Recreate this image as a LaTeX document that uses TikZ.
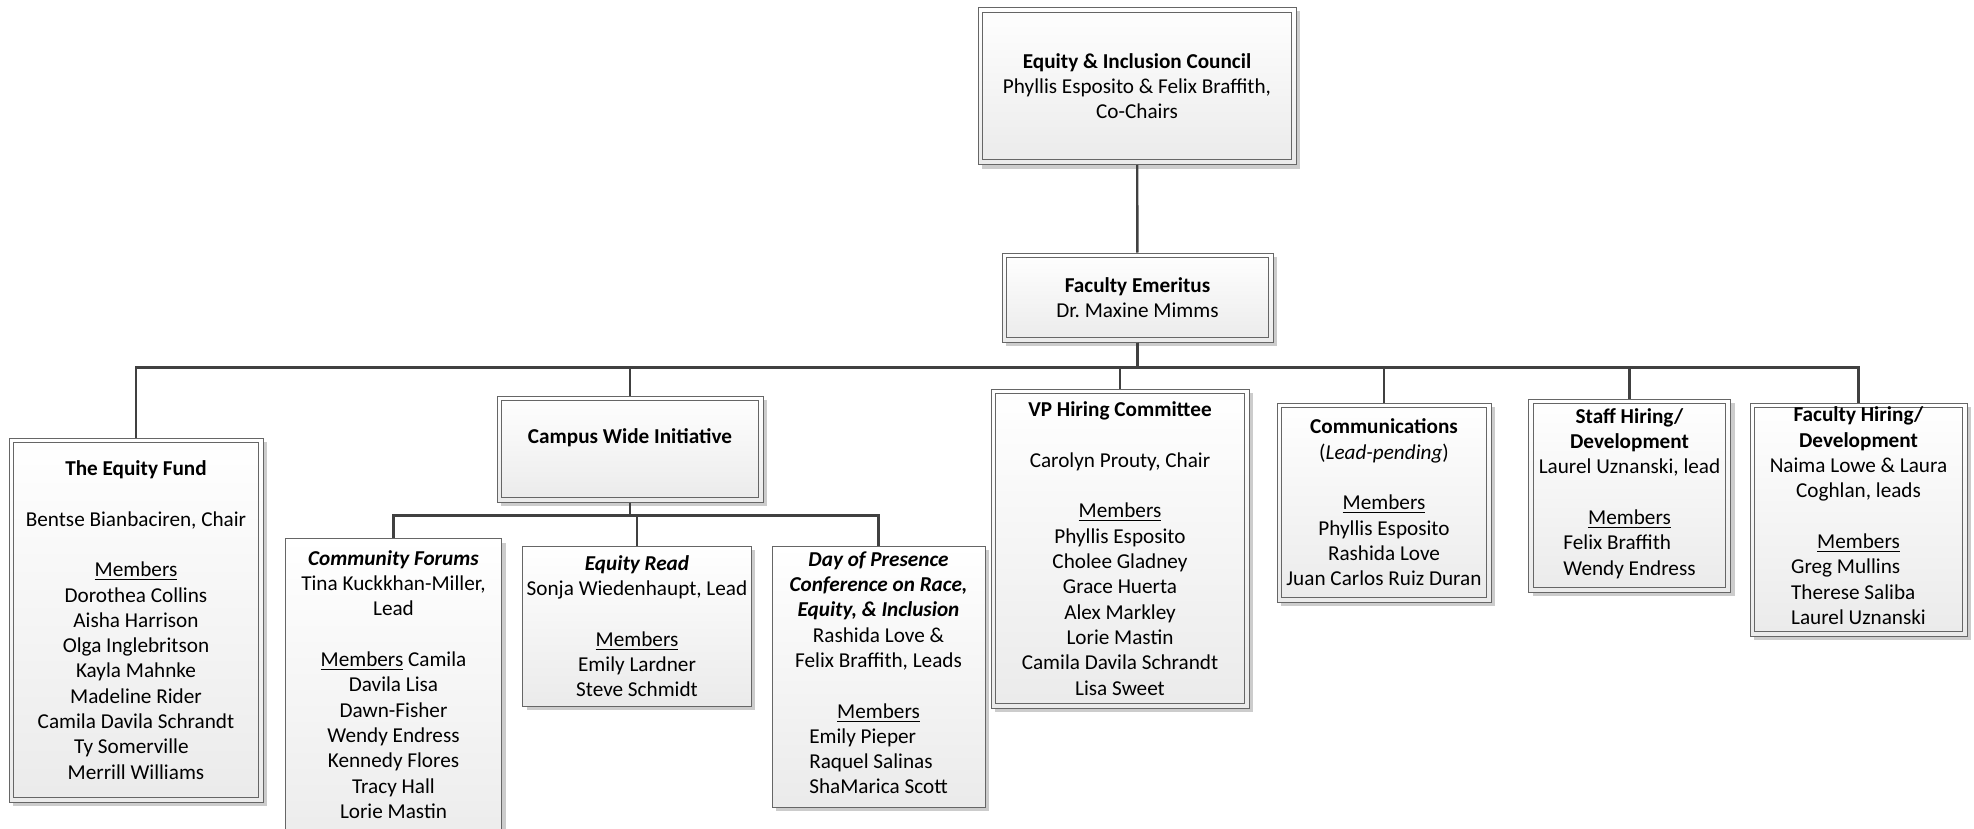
\documentclass[tikz,border=0pt]{standalone}
\usepackage{fontspec}
\setmainfont{Carlito}
\usepackage{tikz}
\usetikzlibrary{shadows}

\begin{document}
\begin{tikzpicture}[x=0.5pt, y=-0.5pt,
        every node/.style = {shape=rectangle, draw=black!60, align=center,
                             line width=0.5pt, inner sep=2pt,
                             top color=white, bottom color=black!8,
                             font=\fontsize{10.6pt}{12.65pt}\selectfont,
                             drop shadow={shadow xshift=2pt, shadow yshift=-2pt,
                                          fill=black!20, opacity=1}},
        dblbox/.style = {path picture={\draw[black!60, line width=0.5pt]
                             ([shift={(2.3pt,2.3pt)}]path picture bounding box.south west) rectangle
                             ([shift={(-2.3pt,-2.3pt)}]path picture bounding box.north east);}},
        link/.style = {draw=black!75, line width=1.2pt}]
    \useasboundingbox (0,0) rectangle (1974,829);
    \node[dblbox, minimum width=159pt, minimum height=78.5pt] (council) at (1137,86)
        {\textbf{Equity \& Inclusion Council}\\Phyllis Esposito \& Felix Braffith,\\Co-Chairs};
    \node[dblbox, minimum width=135.5pt, minimum height=44.5pt] (emer) at (1137.5,297.5)
        {\textbf{Faculty Emeritus}\\Dr.\ Maxine Mimms};
    \node[dblbox, minimum width=127pt, minimum height=182pt] (fund) at (136,620)
        {\textbf{The Equity Fund}\\[12.65pt]Bentse Bianbaciren, Chair\\[12.65pt]\underline{Members}\\
         Dorothea Collins\\Aisha Harrison\\Olga Inglebritson\\Kayla Mahnke\\Madeline Rider\\
         Camila Davila Schrandt\\Ty Somerville\hphantom{x}\\Merrill Williams};
    \node[dblbox, minimum width=133pt, minimum height=53pt] (cwi) at (630,449)
        {\textbf{Campus Wide Initiative}\\ \mbox{}};
    \node[dblbox, minimum width=129pt, minimum height=159.5pt] (vp) at (1120,548.5)
        {\textbf{VP Hiring Committee}\\[12.65pt]Carolyn Prouty, Chair\\[12.65pt]\underline{Members}\\
         Phyllis Esposito\\Cholee Gladney\\Grace Huerta\\Alex Markley\\Lorie Mastin\\
         Camila Davila Schrandt\\Lisa Sweet};
    \node[dblbox, minimum width=107pt, minimum height=99.5pt] (comm) at (1384,502.5)
        {\textbf{Communications}\\(\textit{Lead-pending})\\[12.65pt]\underline{Members}\\
         Phyllis Esposito\\Rashida Love\\Juan Carlos Ruiz Duran};
    \node[dblbox, minimum width=101pt, minimum height=96.5pt] (staff) at (1629.5,495.5)
        {\textbf{Staff Hiring/}\\\textbf{Development}\\Laurel Uznanski, lead\\[12.65pt]\underline{Members}\\
         \begin{tabular}[t]{@{}l@{}}Felix Braffith\\Wendy Endress\end{tabular}};
    \node[dblbox, minimum width=108.5pt, minimum height=116.5pt, inner ysep=1pt] (fac) at (1858.5,519.5)
        {\textbf{Faculty Hiring/}\\\textbf{Development}\\Naima Lowe \& Laura\\Coghlan, leads\\[12.65pt]
         \underline{Members}\\
         \begin{tabular}[t]{@{}l@{}}Greg Mullins\\Therese Saliba\\Laurel Uznanski\end{tabular}};
    \node[minimum width=106.5pt, anchor=north, inner ysep=6pt] (forum) at (393.5,538)
        {\parbox[c][150pt][t]{104pt}{\centering
         \textbf{\textit{Community Forums}}\\Tina Kuckkhan-Miller,\\Lead\\[12.65pt]
         \underline{Members} Camila\\Davila Lisa\\Dawn-Fisher\\Wendy Endress\\
         Kennedy Flores\\Tracy Hall\\Lorie Mastin}};
    \node[minimum width=113pt, minimum height=80pt] (read) at (637,626)
        {\textbf{\textit{Equity Read}}\\Sonja Wiedenhaupt, Lead\\[12.65pt]\underline{Members}\\
         Emily Lardner\\Steve Schmidt};
    \node[minimum width=106.5pt, minimum height=130.5pt] (day) at (878.5,676.5)
        {\textbf{\textit{Day of Presence}}\\\textbf{\textit{Conference on Race,}}\\
         \textbf{\textit{Equity, \& Inclusion}}\\Rashida Love \&\\Felix Braffith, Leads\\[12.65pt]
         \underline{Members}\\
         \begin{tabular}[t]{@{}l@{}}Emily Pieper\\Raquel Salinas\\ShaMarica Scott\end{tabular}};
    \draw[link] (council) -- (emer);
    \foreach \c in {fund,cwi,vp,comm,staff,fac}
        \draw[link] (emer.south) -- ++(0,25) -| (\c.north);
    \foreach \c in {forum,read,day}
        \draw[link] (cwi.south) -- ++(0,13) -| (\c.north);
\end{tikzpicture}
\end{document}
